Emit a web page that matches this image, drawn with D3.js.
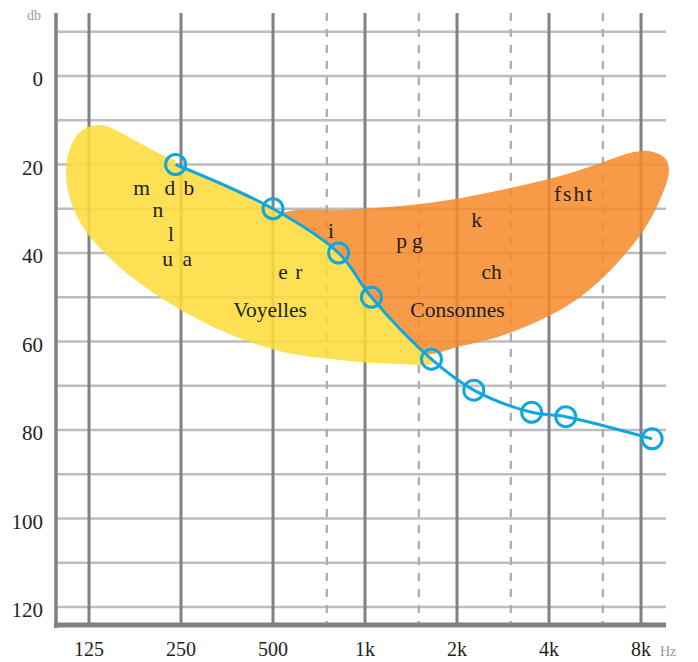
<!DOCTYPE html>
<html>
<head>
<meta charset="utf-8">
<script src="https://cdn.jsdelivr.net/npm/d3@7"></script>
<style>
  html, body { margin: 0; padding: 0; background: #fff; }
  svg { display: block; }
</style>
</head>
<body>
<script>
// ---------- data ----------
const freqTicks = [125, 250, 500, 1000, 2000, 4000, 8000];
const freqLabels = ["125", "250", "500", "1k", "2k", "4k", "8k"];
const halfFreqs = [750, 1500, 3000, 6000];
const dbGrid = [-10, 0, 10, 20, 30, 40, 50, 60, 70, 80, 90, 100, 110, 120];
const dbLabels = [0, 20, 40, 60, 80, 100, 120];

// measured hearing curve
const curveFreq = [240, 500, 820, 1050, 1650, 2270, 3510, 4540, 8700];
const curveDb   = [20, 30, 40, 50, 64, 71, 76, 77, 82];

// "Voyelles" zone outline (freq, dB)
const vowelFreq = [135.8, 183.6, 218.4, 311, 613, 1120, 1828, 1695, 1301, 828, 527, 343, 213.4, 146.4, 116.7, 105.9, 106.7, 116.7];
const vowelDb   = [11.1, 15.2, 17.9, 21.3, 25.8, 41.6, 58.6, 64.7, 65.1, 64.2, 62.2, 57.7, 50.0, 41.2, 33.0, 24.7, 17.9, 12.7];

// "Consonnes" zone outline (freq, dB)
const consFreq = [568, 828, 1301, 2046, 2981, 4346, 5874, 7362, 8562, 9587, 9875, 9371, 8244, 6576, 5051, 3738, 2766, 2046, 1571, 1207, 768, 471];
const consDb   = [30.5, 30.3, 29.4, 27.6, 25.3, 22.6, 19.7, 17.4, 17.0, 18.6, 21.3, 26.9, 34.4, 42.8, 50.0, 55.2, 58.8, 61.1, 62.9, 59.7, 43.9, 33.0];

// phoneme labels
const phonText = ["m", "d", "b", "n", "l", "u", "a", "e", "r", "Voyelles", "i", "p", "g", "k", "fsht", "ch", "Consonnes"];
const phonFreq = [185.9, 230, 265.5, 210.2, 231.9, 226.2, 262.2, 539, 608, 488.8, 774, 1319, 1483, 2320, 4830, 2597, 2008];
const phonDb   = [26.8, 26.8, 26.8, 31.8, 37.3, 42.9, 42.9, 45.9, 45.9, 54.4, 36.5, 38.8, 38.8, 34.1, 28.2, 45.8, 54.4];

// ---------- layout ----------
const W = 698, H = 662;
const plotLeft = 56, plotRight = 666, plotTop = 13, plotBottom = 625;
const serif = "'Liberation Serif', 'Times New Roman', serif";

const x = d3.scaleLog().base(2).domain([125, 8000]).range([89, 641]);
const y = d3.scaleLinear().domain([0, 120]).range([76, 607]);

const svg = d3.select("body").append("svg")
  .attr("width", W).attr("height", H)
  .attr("viewBox", `0 0 ${W} ${H}`);

// horizontal gridlines
svg.append("g").selectAll("line").data(dbGrid).join("line")
  .attr("x1", plotLeft).attr("x2", plotRight)
  .attr("y1", d => y(d)).attr("y2", d => y(d))
  .attr("stroke", "#bdbdc1").attr("stroke-width", 2.6);

// dashed half-octave lines
svg.append("g").selectAll("line").data(halfFreqs).join("line")
  .attr("x1", d => x(d)).attr("x2", d => x(d))
  .attr("y1", plotTop).attr("y2", plotBottom)
  .attr("stroke", "#ababaf").attr("stroke-width", 2.2)
  .attr("stroke-dasharray", "8,8");

// octave lines
svg.append("g").selectAll("line").data(freqTicks).join("line")
  .attr("x1", d => x(d)).attr("x2", d => x(d))
  .attr("y1", plotTop).attr("y2", plotBottom)
  .attr("stroke", "#818185").attr("stroke-width", 3);

// axes frame
svg.append("line")
  .attr("x1", plotLeft).attr("x2", plotLeft)
  .attr("y1", plotTop).attr("y2", plotBottom + 3)
  .attr("stroke", "#818185").attr("stroke-width", 3.5);
svg.append("line")
  .attr("x1", plotLeft - 2).attr("x2", plotRight)
  .attr("y1", plotBottom).attr("y2", plotBottom)
  .attr("stroke", "#818185").attr("stroke-width", 5);

// ---------- zones ----------
const pts = curveFreq.map((f, i) => ({ f, db: curveDb[i] }));
const lineGen = d3.line().x(d => x(d.f)).y(d => y(d.db))
  .curve(d3.curveCatmullRom.alpha(0.5));
const lineD = lineGen(pts);
const p1 = pts[0], pN = pts[pts.length - 1];

const defs = svg.append("defs");
defs.append("clipPath").attr("id", "belowLine").append("path")
  .attr("d", lineD + `L${x(pN.f)},${H}L0,${H}L0,0L${x(p1.f)},0Z`);
defs.append("clipPath").attr("id", "aboveLine").append("path")
  .attr("d", lineD + `L${W},${y(pN.db)}L${W},0L${x(p1.f)},0Z`);

const blob = d3.line().x(d => x(d[0])).y(d => y(d[1]))
  .curve(d3.curveCatmullRomClosed.alpha(0.5));

svg.append("path")
  .attr("d", blob(vowelFreq.map((f, i) => [f, vowelDb[i]])))
  .attr("fill", "#fedb3c").attr("fill-opacity", 0.87)
  .attr("clip-path", "url(#belowLine)");

svg.append("path")
  .attr("d", blob(consFreq.map((f, i) => [f, consDb[i]])))
  .attr("fill", "#f68a2a").attr("fill-opacity", 0.86)
  .attr("clip-path", "url(#aboveLine)");

// phoneme labels
svg.append("g").selectAll("text").data(phonText).join("text")
  .attr("x", (d, i) => x(phonFreq[i]))
  .attr("y", (d, i) => y(phonDb[i]))
  .attr("text-anchor", "middle")
  .attr("font-family", serif)
  .attr("font-size", 21.5)
  .attr("letter-spacing", d => d === "fsht" ? 2 : 0)
  .attr("fill", "#231f20")
  .text(d => d);

// ---------- hearing curve ----------
svg.append("path").attr("d", lineD)
  .attr("fill", "none").attr("stroke", "#10a7e0").attr("stroke-width", 3);
svg.append("g").selectAll("circle").data(pts).join("circle")
  .attr("cx", d => x(d.f)).attr("cy", d => y(d.db)).attr("r", 10)
  .attr("fill", "none").attr("stroke", "#10a7e0").attr("stroke-width", 3);

// ---------- tick labels ----------
svg.append("g").selectAll("text").data(dbLabels).join("text")
  .attr("x", 43).attr("y", d => y(d) + 10)
  .attr("text-anchor", "end")
  .attr("font-family", serif).attr("font-size", 21)
  .attr("fill", "#231f20")
  .text(d => d);

svg.append("g").selectAll("text").data(freqTicks).join("text")
  .attr("x", d => x(d)).attr("y", 656)
  .attr("text-anchor", "middle")
  .attr("font-family", serif).attr("font-size", 20)
  .attr("fill", "#231f20")
  .text((d, i) => freqLabels[i]);

svg.append("text").attr("x", 34).attr("y", 20)
  .attr("text-anchor", "middle")
  .attr("font-family", serif).attr("font-size", 14)
  .attr("fill", "#9a9a9e").text("db");
svg.append("text").attr("x", 660).attr("y", 656)
  .attr("font-family", serif).attr("font-size", 14)
  .attr("fill", "#9a9a9e").text("Hz");
</script>
</body>
</html>
